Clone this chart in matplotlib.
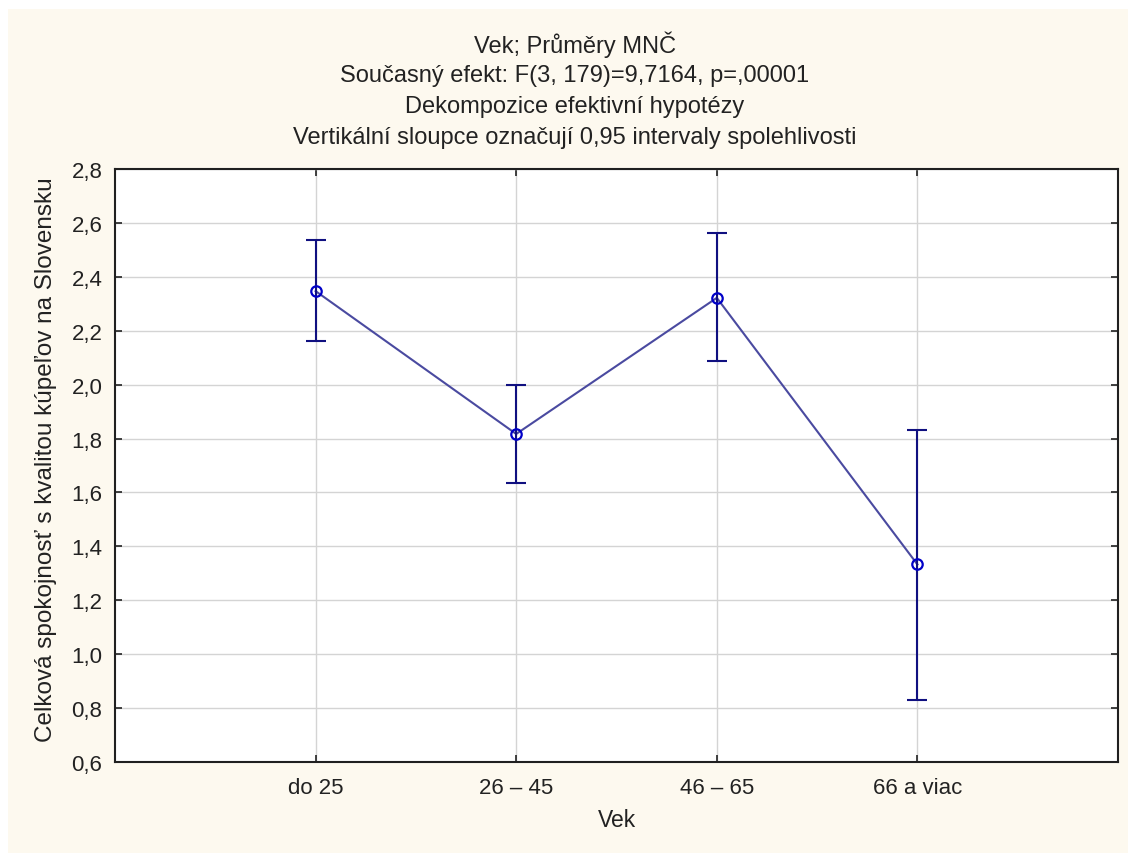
import matplotlib
matplotlib.use("Agg")
import matplotlib.pyplot as plt
from matplotlib.patches import Rectangle
from matplotlib.ticker import FuncFormatter, MultipleLocator

categories = ["do 25", "26 – 45", "46 – 65", "66 a viac"]
means = [2.347, 1.817, 2.322, 1.333]
ci_lower = [2.162, 1.636, 2.086, 0.831]
ci_upper = [2.537, 2.000, 2.562, 1.832]

title_lines = [
    "Vek; Průměry MNČ",
    "Současný efekt: F(3, 179)=9,7164, p=,00001",
    "Dekompozice efektivní hypotézy",
    "Vertikální sloupce označují 0,95 intervaly spolehlivosti",
]

plt.rcParams['font.family'] = ['Liberation Sans', 'DejaVu Sans']
TXT = "#222222"

fig = plt.figure(figsize=(11.28, 8.54), dpi=100, facecolor="white")
bg = Rectangle((8 / 1128, 0), 1 - 8 / 1128, 1 - 10 / 854, transform=fig.transFigure,
               facecolor="#FDF9EF", edgecolor="none", zorder=-10)
fig.patches.append(bg)

ax = fig.add_axes([115 / 1128, (854 - 763) / 854, (1118 - 115) / 1128, (763 - 170) / 854])
ax.set_facecolor("white")

x = list(range(len(categories)))
yerr_low = [m - l for m, l in zip(means, ci_lower)]
yerr_high = [u - m for m, u in zip(means, ci_upper)]

ax.plot(x, means, color="#4A4AA0", lw=1.5, zorder=3)
ax.errorbar(x, means, yerr=[yerr_low, yerr_high], fmt="none", ecolor="#101080",
            elinewidth=1.5, capsize=7.5, capthick=1.5, zorder=4)
ax.plot(x, means, linestyle="none", marker="o", markersize=7.5, markerfacecolor="none",
        markeredgecolor="#0000C8", markeredgewidth=1.6, zorder=5)

ax.set_xlim(-1, 4)
ax.set_ylim(0.6, 2.8)
ax.set_xticks(x)
ax.set_xticklabels(categories)
ax.yaxis.set_major_locator(MultipleLocator(0.2))
ax.yaxis.set_major_formatter(FuncFormatter(lambda v, p: f"{v:.1f}".replace(".", ",")))

ax.grid(True, color="#D4D4D4", lw=1.0, zorder=0)
ax.set_axisbelow(True)
for s in ax.spines.values():
    s.set_color("#202020")
    s.set_linewidth(1.5)
ax.tick_params(direction="in", length=5, width=1.2, top=True, right=True,
               labelsize=16, colors=TXT)
ax.tick_params(axis="x", pad=11)
ax.tick_params(axis="y", pad=9)

ax.set_xlabel("Vek", fontsize=16.5, color=TXT)
ax.set_ylabel("Celková spokojnosť s kvalitou kúpeľov na Slovensku", fontsize=17.5, color=TXT)
ax.xaxis.set_label_coords(0.5, -0.078)
ax.yaxis.set_label_coords(-0.058, 0.511)

title_y = [45, 76, 107, 138]
for line, yp in zip(title_lines, title_y):
    fig.text(575 / 1128, 1 - yp / 854, line, ha="center", va="center",
             fontsize=17, color=TXT)

fig.savefig("out.png", dpi=100, facecolor="white")
